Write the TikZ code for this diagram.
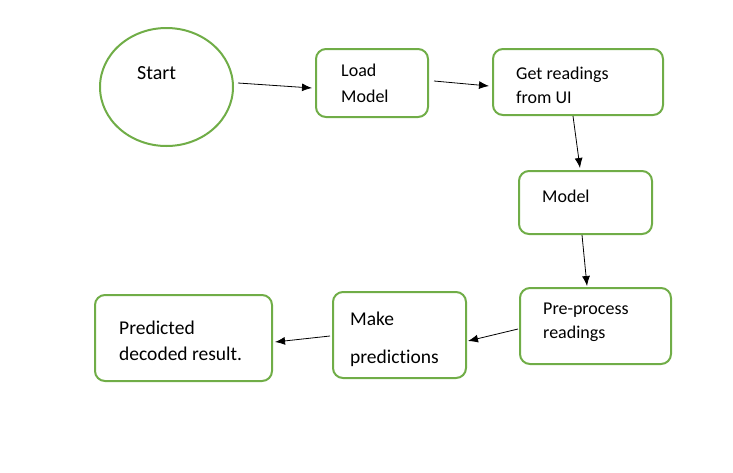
\documentclass[tikz,border=0pt]{standalone}
\usepackage{fontspec}
\setmainfont[Ligatures={NoCommon}]{Carlito}
\usetikzlibrary{arrows.meta,shapes.geometric}
\definecolor{boxgreen}{HTML}{70AD47}
\tikzset{
  stepbox/.style={draw=boxgreen, line width=2pt, rounded corners=10pt, inner sep=0pt},
  steptext/.style={anchor=west, align=left, inner sep=0pt},
  flow/.style={-{Latex[length=10pt,width=8pt]}, line width=0.8pt}
}
\begin{document}
\begin{tikzpicture}[x=1pt,y=-1pt]
  \useasboundingbox (0,0) rectangle (733,472);
  % Cajas
  \node[stepbox, ellipse, rounded corners=0pt, minimum width=133pt, minimum height=118pt] (start) at (166.5,87) {};
  \node[stepbox, minimum width=112pt, minimum height=68pt] (load) at (372,83) {};
  \node[stepbox, minimum width=170pt, minimum height=66pt] (get) at (578,82) {};
  \node[stepbox, minimum width=133pt, minimum height=63pt] (model) at (585.5,202.5) {};
  \node[stepbox, minimum width=151pt, minimum height=76pt] (pre) at (595.5,326) {};
  \node[stepbox, minimum width=133pt, minimum height=86pt] (make) at (399.5,335) {};
  \node[stepbox, minimum width=177pt, minimum height=86pt] (pred) at (183.5,338) {};
  % Textos
  \node[steptext, font=\fontsize{20}{24}\selectfont] (starttxt) at (137,73) {Start};
  \node[steptext, font=\fontsize{18}{26}\selectfont] (loadtxt) at (341,83) {Load\\Model};
  \node[steptext, font=\fontsize{18}{24}\selectfont] (gettxt) at (516,85) {Get readings\\from UI};
  \node[steptext, font=\fontsize{18}{24}\selectfont] (modeltxt) at (542,196) {Model};
  \node[steptext, font=\fontsize{18}{24}\selectfont] (pretxt) at (543,322) {Pre-process\\readings};
  \node[steptext, font=\fontsize{19.5}{38}\selectfont] (maketxt) at (350,339) {Make\\predictions};
  \node[steptext, font=\fontsize{19.5}{26}\selectfont] (predtxt) at (119,341) {Predicted\\decoded result.};
  % Flechas
  \draw[flow] ([xshift=4pt,yshift=4pt]start.east) -- ([xshift=-3pt,yshift=-5pt]load.west);
  \draw[flow] ([xshift=5pt,yshift=2pt]load.east) -- ([xshift=-3pt,yshift=-4pt]get.west);
  \draw[flow] ([xshift=-5pt]get.south) -- ([xshift=-5.5pt,yshift=2pt]model.north);
  \draw[flow] ([xshift=-3.5pt]model.south) -- ([xshift=-8.5pt,yshift=1pt]pre.north);
  \draw[flow] ([xshift=-1pt,yshift=-3pt]pre.west) -- ([xshift=1pt,yshift=-6pt]make.east);
  \draw[flow] ([xshift=-2pt,yshift=-1pt]make.west) -- ([xshift=2pt,yshift=-4pt]pred.east);
\end{tikzpicture}
\end{document}
